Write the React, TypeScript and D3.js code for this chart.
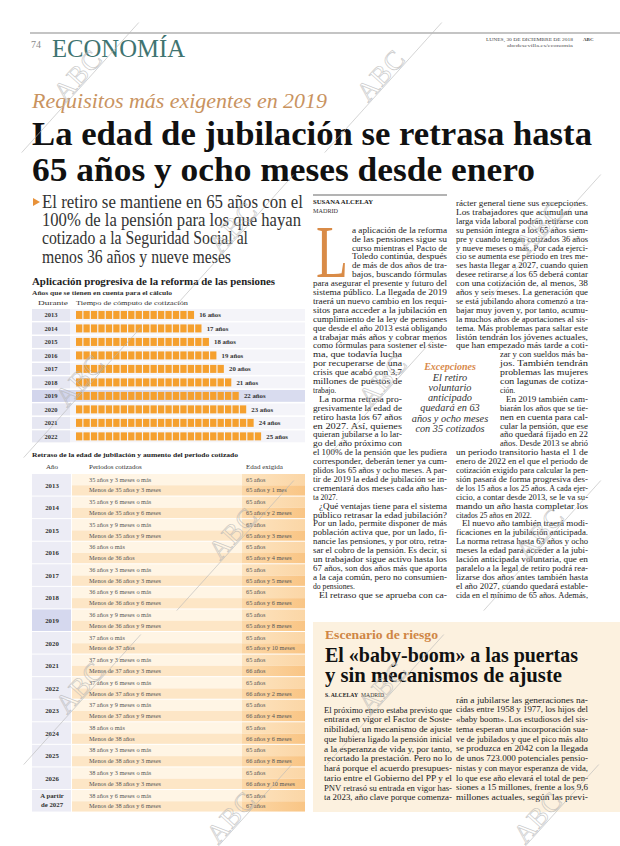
import React from "react";
import * as d3 from "d3";

const W = 620;
const H = 846;
const SERIF = "'Liberation Serif', 'DejaVu Serif', serif";

// ---------- data ----------
const barYears = ["2013", "2014", "2015", "2016", "2017", "2018", "2019", "2020", "2021", "2022"];
const barValues = [16, 17, 18, 19, 20, 21, 22, 23, 24, 25];
const highlightYear = "2019";

const tableYears = ["2013", "2014", "2015", "2016", "2017", "2018", "2019", "2020", "2021", "2022", "2023", "2024", "2025", "2026", "A partir de 2027"];
const periodsOver = [
  "35 años y 3 meses o más", "35 años y 6 meses o más", "35 años y 9 meses o más", "36 años o más",
  "36 años y 3 meses o más", "36 años y 6 meses o más", "36 años y 9 meses o más", "37 años o más",
  "37 años y 3 meses o más", "37 años y 6 meses o más", "37 años y 9 meses o más", "38 años o más",
  "38 años y 3 meses o más", "38 años y 3 meses o más", "38 años y 6 meses o más",
];
const periodsUnder = [
  "Menos de 35 años y 3 meses", "Menos de 35 años y 6 meses", "Menos de 35 años y 9 meses", "Menos de 36 años",
  "Menos de 36 años y 3 meses", "Menos de 36 años y 6 meses", "Menos de 36 años y 9 meses", "Menos de 37 años",
  "Menos de 37 años y 3 meses", "Menos de 37 años y 6 meses", "Menos de 37 años y 9 meses", "Menos de 38 años",
  "Menos de 38 años y 3 meses", "Menos de 38 años y 3 meses", "Menos de 38 años y 6 meses",
];
const ageOver = Array.from({ length: 15 }, () => "65 años");
const ageUnder = [
  "65 años y 1 mes", "65 años y 2 meses", "65 años y 3 meses", "65 años y 4 meses", "65 años y 5 meses",
  "65 años y 6 meses", "65 años y 8 meses", "65 años y 10 meses", "66 años", "66 años y 2 meses",
  "66 años y 4 meses", "66 años y 6 meses", "66 años y 8 meses", "66 años y 10 meses", "67 años",
];

const subtitleLines = [
  "El retiro se mantiene en 65 años con el",
  "100% de la pensión para los que hayan",
  "cotizado a la Seguridad Social al",
  "menos 36 años y nueve meses",
];

const col1Lines = [
  "a aplicación de la reforma",
  "de las pensiones sigue su",
  "curso mientras el Pacto de",
  "Toledo continúa, después",
  "de más de dos años de tra-",
  "bajos, buscando fórmulas",
  "para asegurar el presente y futuro del",
  "sistema público. La llegada de 2019",
  "traerá un nuevo cambio en los requi-",
  "sitos para acceder a la jubilación en",
  "cumplimiento de la ley de pensiones",
  "que desde el año 2013 está obligando",
  "a trabajar más años y cobrar menos",
  "como fórmulas para sostener el siste-",
  "ma, que todavía lucha",
  "por recuperarse de una",
  "crisis que acabó con 3,7",
  "millones de puestos de",
  "trabajo.",
  "La norma retrasa pro-",
  "gresivamente la edad de",
  "retiro hasta los 67 años",
  "en 2027. Así, quienes",
  "quieran jubilarse a lo lar-",
  "go del año próximo con",
  "el 100% de la pensión que les pudiera",
  "corresponder, deberán tener ya cum-",
  "plidos los 65 años y ocho meses. A par-",
  "tir de 2019 la edad de jubilación se in-",
  "crementará dos meses cada año has-",
  "ta 2027.",
  "¿Qué ventajas tiene para el sistema",
  "público retrasar la edad jubilación?",
  "Por un lado, permite disponer de más",
  "población activa que, por un lado, fi-",
  "nancie las pensiones, y por otro, retra-",
  "sar el cobro de la pensión. Es decir, si",
  "un trabajador sigue activo hasta los",
  "67 años, son dos años más que aporta",
  "a la caja común, pero no consumien-",
  "do pensiones.",
  "El retraso que se aprueba con ca-",
];

const col2Lines = [
  "rácter general tiene sus excepciones.",
  "Los trabajadores que acumulan una",
  "larga vida laboral podrán retirarse con",
  "su pensión íntegra a los 65 años siem-",
  "pre y cuando tengan cotizados 36 años",
  "y nueve meses o más. Por cada ejerci-",
  "cio se aumenta ese periodo en tres me-",
  "ses hasta llegar a 2027, cuando quien",
  "desee retirarse a los 65 deberá contar",
  "con una cotización de, al menos, 38",
  "años y seis meses. La generación que",
  "se está jubilando ahora comenzó a tra-",
  "bajar muy joven y, por tanto, acumu-",
  "la muchos años de aportaciones al sis-",
  "tema. Más problemas para saltar este",
  "listón tendrán los jóvenes actuales,",
  "que han empezado más tarde a coti-",
  "zar y con sueldos más ba-",
  "jos. También tendrán",
  "problemas las mujeres",
  "con lagunas de cotiza-",
  "ción.",
  "En 2019 también cam-",
  "biarán los años que se tie-",
  "nen en cuenta para cal-",
  "cular la pensión, que ese",
  "año quedará fijado en 22",
  "años. Desde 2013 se abrió",
  "un periodo transitorio hasta el 1 de",
  "enero de 2022 en el que el periodo de",
  "cotización exigido para calcular la pen-",
  "sión pasará de forma progresiva des-",
  "de los 15 años a los 25 años. A cada ejer-",
  "cicio, a contar desde 2013, se le va su-",
  "mando un año hasta completar los",
  "citados 25 años en 2022.",
  "El nuevo año también traerá modi-",
  "ficaciones en la jubilación anticipada.",
  "La norma retrasa hasta 63 años y ocho",
  "meses la edad para acceder a la jubi-",
  "lación anticipada voluntaria, que en",
  "paralelo a la legal de retiro podrá rea-",
  "lizarse dos años antes también hasta",
  "el año 2027, cuando quedará estable-",
  "cida en el mínimo de 65 años. Además,",
];

const quoteLines = ["El retiro", "voluntario", "anticipado", "quedará en 63", "años y ocho meses", "con 35 cotizados"];

const boxColA = [
  "El próximo enero estaba previsto que",
  "entrara en vigor el Factor de Soste-",
  "nibilidad, un mecanismo de ajuste",
  "que hubiera ligado la pensión inicial",
  "a la esperanza de vida y, por tanto,",
  "recortado la prestación. Pero no lo",
  "hará porque el acuerdo presupues-",
  "tario entre el Gobierno del PP y el",
  "PNV retrasó su entrada en vigor has-",
  "ta 2023, año clave porque comenza-",
];
const boxColB = [
  "rán a jubilarse las generaciones na-",
  "cidas entre 1958 y 1977, los hijos del",
  "«baby boom». Los estudiosos del sis-",
  "tema esperan una incorporación sua-",
  "ve de jubilados y que el pico más alto",
  "se produzca en 2042 con la llegada",
  "de unos 723.000 potenciales pensio-",
  "nistas y con mayor esperanza de vida,",
  "lo que ese año elevará el total de pen-",
  "siones a 15 millones, frente a los 9,6",
  "millones actuales, según las previ-",
];

const watermarks: [number, number][] = [
  [83, 80], [386, 80], [238, 232], [545, 232], [85, 385], [388, 385],
  [238, 538], [545, 538], [85, 692], [388, 692], [236, 822], [543, 822],
];

// ---------- helpers ----------
function Line(props: { x: number; y: number; w?: number; text: string; size: number; fill?: string; weight?: any; italic?: boolean; anchor?: any; family?: string }) {
  const { x, y, w, text, size, fill = "#222", weight = "normal", italic = false, anchor = "start", family = SERIF } = props;
  return (
    <text
      x={x}
      y={y}
      fontFamily={family}
      fontSize={size}
      fontWeight={weight}
      fontStyle={italic ? "italic" : "normal"}
      fill={fill}
      textAnchor={anchor}
      {...(w ? { textLength: w, lengthAdjust: "spacingAndGlyphs" } : {})}
    >
      {text}
    </text>
  );
}

function Watermark({ cx, cy }: { cx: number; cy: number }) {
  return (
    <g transform={`translate(${cx},${cy}) rotate(-48)`} opacity={0.7}>
      <line x1={-95} y1={3} x2={80} y2={3} stroke="#b9b9b9" strokeWidth={0.8} />
      <text x={0} y={2} textAnchor="middle" fontFamily={SERIF} fontSize={27} fill="none" stroke="#b5b5b5" strokeWidth={0.7} letterSpacing={1}>
        ABC
      </text>
    </g>
  );
}

export default function App() {
  // bar chart scales
  const rowY = d3.scaleBand<string>().domain(barYears).range([309, 309 + 13.33 * barYears.length]).paddingInner(0.12);
  const sq = d3.scaleLinear().domain([0, 25]).range([76, 76 + 25 * 7.45]);
  const sqW = 6.3;

  // table scales
  const blockY = d3.scaleBand<string>().domain(tableYears).range([474, 474 + 22.57 * tableYears.length]);
  const colX = { year: 32, mid: 72, right: 242, end: 305 };

  // body columns
  const step = 8.9;
  const c2y0 = 206;
  const c1y0 = c2y0 + 3 * step;

  const col1Spec = (i: number) => {
    let x = 313, w = 134;
    if (i <= 5) { x = 352; w = 95; }
    if (i >= 14 && i <= 24) { x = 313; w = 89; }
    if (i === 19 || i === 31 || i === 41) { x += 6; w -= 6; }
    const just = !(i === 18 || i === 30 || i === 40);
    return { x, w, just };
  };
  const col2Spec = (i: number) => {
    let x = 456, w = 132;
    if (i >= 17 && i <= 27) { x = 500; w = 88; }
    if (i === 22 || i === 36) { x += 6; w -= 6; }
    const just = !(i === 21 || i === 35);
    return { x, w, just };
  };

  return (
    <svg width={W} height={H} viewBox={`0 0 ${W} ${H}`} style={{ position: "absolute", left: 0, top: 0, background: "#fff" }}>
      <rect x={0} y={0} width={W} height={H} fill="#fff" />

      {/* ---------- page header ---------- */}
      <line x1={30} y1={33} x2={620} y2={33} stroke="#8a8a8a" strokeWidth={1.2} />
      <Line x={31} y={48} text="74" size={10} fill="#8a8a8a" />
      <Line x={52} y={57} w={133} text="ECONOMÍA" size={26} fill="#3f7471" />
      <Line x={486} y={41} w={87} text="LUNES, 30 DE DICIEMBRE DE 2018" size={5} fill="#444" />
      <Line x={583} y={41} text="ABC" size={5} weight="bold" fill="#444" />
      <Line x={573} y={47} w={66} anchor="end" text="abcdesevilla.es/economia" size={4.5} fill="#555" />

      {/* ---------- headline ---------- */}
      <Line x={32} y={108} w={295} text="Requisitos más exigentes en 2019" size={20} italic fill="#c9935f" />
      <Line x={32} y={145} w={560} text="La edad de jubilación se retrasa hasta" size={33} weight="bold" fill="#111" />
      <Line x={32} y={181} w={503} text="65 años y ocho meses desde enero" size={33} weight="bold" fill="#111" />

      {/* subtitle */}
      <path d="M33,198 L40,202 L33,206 Z" fill="#e8923a" />
      {subtitleLines.map((t, i) => (
        <Line key={t} x={42} y={208 + i * 18.2} w={[261, 259, 206, 189][i]} text={t} size={18} fill="#333" />
      ))}

      {/* ---------- bar chart ---------- */}
      <Line x={32} y={285} w={243} text="Aplicación progresiva de la reforma de las pensiones" size={10.5} weight="bold" fill="#222" />
      <Line x={32} y={294.5} w={140} text="Años que se tienen en cuenta para el cálculo" size={6.5} weight="bold" fill="#333" />
      <Line x={38} y={305} w={30} text="Durante" size={6.5} fill="#333" />
      <Line x={76} y={305} w={112} text="Tiempo de cómputo de cotización" size={6.5} fill="#333" />
      {barYears.map((yr, i) => {
        const y = rowY(yr)!;
        const h = rowY.bandwidth();
        const hl = yr === highlightYear;
        const n = barValues[i];
        return (
          <g key={yr}>
            <rect x={32} y={y} width={273} height={h} fill={hl ? "#d9dcef" : "#f4f4f9"} />
            <rect x={32} y={y} width={38} height={h} fill={hl ? "#d2d5ec" : "#e6e7f2"} />
            <Line x={51} y={y + h / 2 + 2.2} anchor="middle" text={yr} size={6.5} weight="bold" fill="#333" />
            {d3.range(n).map((k) => (
              <rect key={k} x={sq(k)} y={y + h / 2 - 4} width={sqW} height={8} fill="#f5a02e" />
            ))}
            <Line x={sq(n) + 4} y={y + h / 2 + 2.3} text={`${n} años`} size={6.8} weight="bold" fill="#333" />
          </g>
        );
      })}

      {/* ---------- table ---------- */}
      <Line x={32} y={457} w={206} text="Retraso de la edad de jubilación y aumento del periodo cotizado" size={6.8} weight="bold" fill="#222" />
      <Line x={52} y={469} anchor="middle" text="Año" size={7} fill="#333" />
      <Line x={89} y={469} text="Periodos cotizados" size={7} fill="#333" />
      <Line x={246} y={469} text="Edad exigida" size={7} fill="#333" />
      <defs>
        <linearGradient id="ageGrad1" x1="0" x2="1" y1="0" y2="0">
          <stop offset="0" stopColor="#fde4c0" />
          <stop offset="1" stopColor="#fbd6a6" />
        </linearGradient>
        <linearGradient id="ageGrad2" x1="0" x2="1" y1="0" y2="0">
          <stop offset="0" stopColor="#fcd8a8" />
          <stop offset="1" stopColor="#f9c585" />
        </linearGradient>
      </defs>
      {tableYears.map((yr, i) => {
        const y = blockY(yr)!;
        const h = blockY.bandwidth();
        const half = h / 2;
        const hl = yr === highlightYear;
        const last = i === tableYears.length - 1;
        return (
          <g key={yr}>
            <rect x={colX.year} y={y} width={colX.mid - colX.year - 1} height={h - 1} fill={hl ? "#d5d8ee" : "#ececf5"} />
            <rect x={colX.mid} y={y} width={colX.right - colX.mid} height={half} fill="#fff5e5" />
            <rect x={colX.mid} y={y + half} width={colX.right - colX.mid} height={half - 1} fill="#fde6c6" />
            <rect x={colX.right} y={y} width={colX.end - colX.right} height={half} fill="url(#ageGrad1)" />
            <rect x={colX.right} y={y + half} width={colX.end - colX.right} height={half - 1} fill="url(#ageGrad2)" />
            {last ? (
              <>
                <Line x={52} y={y + 8} anchor="middle" text="A partir" size={6.8} weight="bold" fill="#333" />
                <Line x={52} y={y + 17} anchor="middle" text="de 2027" size={6.8} weight="bold" fill="#333" />
              </>
            ) : (
              <Line x={52} y={y + half + 2.3} anchor="middle" text={yr} size={6.8} weight="bold" fill="#333" />
            )}
            <Line x={89} y={y + 7.6} text={periodsOver[i]} size={6.3} fill="#555" />
            <Line x={89} y={y + 18.4} text={periodsUnder[i]} size={6.3} fill="#555" />
            <Line x={246} y={y + 7.6} text={ageOver[i]} size={6.3} fill="#555" />
            <Line x={246} y={y + 18.4} text={ageUnder[i]} size={6.3} fill="#555" />
          </g>
        );
      })}

      {/* ---------- article ---------- */}
      <line x1={313} y1={195} x2={447} y2={195} stroke="#9a9a9a" strokeWidth={1.5} />
      <Line x={313} y={204} w={60} text="SUSANA ALCELAY" size={6} weight="bold" fill="#222" />
      <Line x={313} y={213} w={25} text="MADRID" size={5.3} fill="#333" />
      <Line x={316} y={277} w={32} text="L" size={74} fill="#d98b47" />
      {col1Lines.map((t, i) => {
        const s = col1Spec(i);
        return <Line key={"c1" + i} x={s.x} y={c1y0 + i * step} w={s.just ? s.w : undefined} text={t} size={7.7} fill="#222" />;
      })}
      {col2Lines.map((t, i) => {
        const s = col2Spec(i);
        return <Line key={"c2" + i} x={s.x} y={c2y0 + i * step} w={s.just ? s.w : undefined} text={t} size={7.7} fill="#222" />;
      })}

      {/* pull quote */}
      <Line x={450} y={370} anchor="middle" text="Excepciones" size={10} weight="bold" italic fill="#d8894a" />
      {quoteLines.map((t, i) => (
        <Line key={t} x={450} y={380.5 + i * 10.3} anchor="middle" text={t} size={10.3} italic fill="#333" />
      ))}

      {/* ---------- box ---------- */}
      <rect x={313} y={622} width={307} height={190} fill="#fcf1df" />
      <Line x={325} y={639} w={113} text="Escenario de riesgo" size={12.5} weight="bold" fill="#cf8645" />
      <Line x={325} y={662} w={253} text="El «baby-boom» a las puertas" size={21} weight="bold" fill="#111" />
      <Line x={325} y={682} w={237} text="y sin mecanismos de ajuste" size={21} weight="bold" fill="#111" />
      <Line x={325} y={697} w={33} text="S. ALCELAY" size={6} weight="bold" fill="#222" />
      <Line x={361} y={697} w={23} text="MADRID" size={5.5} fill="#333" />
      {boxColA.map((t, i) => (
        <Line key={"ba" + i} x={324} y={712.5 + i * 9.75} w={128} text={t} size={8.2} fill="#222" />
      ))}
      {boxColB.map((t, i) => (
        <Line key={"bb" + i} x={456} y={702.5 + i * 9.75} w={132} text={t} size={8.2} fill="#222" />
      ))}

      {/* ---------- watermarks ---------- */}
      {watermarks.map(([x, y], i) => (
        <Watermark key={i} cx={x} cy={y} />
      ))}
    </svg>
  );
}
